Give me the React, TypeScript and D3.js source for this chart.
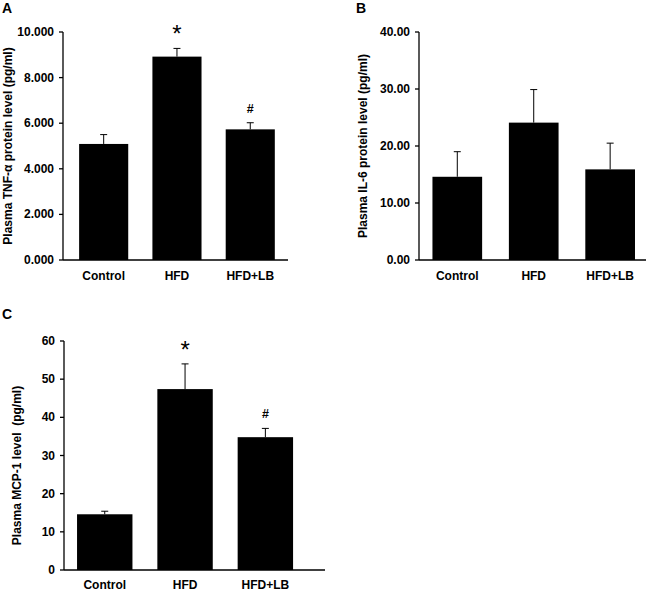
import React from 'react';
import * as d3 from 'd3';

const groups = ['Control', 'HFD', 'HFD+LB'];

const tnfMean = [5.09, 8.92, 5.73];
const tnfErr = [0.41, 0.36, 0.29];
const tnfMarks = ['', '*', '#'];
const tnfTicks = [0, 2, 4, 6, 8, 10];

const il6Mean = [14.6, 24.1, 15.9];
const il6Err = [4.4, 5.8, 4.6];
const il6Marks = ['', '', ''];
const il6Ticks = [0, 10, 20, 30, 40];

const mcpMean = [14.6, 47.4, 34.8];
const mcpErr = [0.8, 6.6, 2.3];
const mcpMarks = ['', '*', '#'];
const mcpTicks = [0, 10, 20, 30, 40, 50, 60];

const FONT = '"Liberation Sans", Arial, sans-serif';

type PanelProps = {
  letter: string;
  letterX: number;
  letterY: number;
  title: string;
  titleX: number;
  titleDy: number;
  x0: number;
  x1: number;
  top: number;
  bottom: number;
  max: number;
  ticks: number[];
  fmt: (d: number) => string;
  means: number[];
  errs: number[];
  marks: string[];
  padInner: number;
  padOuter: number;
  align: number;
  labelDy: number;
};

function Panel(p: PanelProps) {
  const x = d3
    .scaleBand()
    .domain(groups)
    .range([p.x0, p.x1])
    .paddingInner(p.padInner)
    .paddingOuter(p.padOuter)
    .align(p.align);
  const y = d3.scaleLinear().domain([0, p.max]).range([p.bottom, p.top]);
  const bw = x.bandwidth();

  return (
    <g fontFamily={FONT} fontWeight="bold">
      <text x={p.letterX} y={p.letterY} fontSize={14}>
        {p.letter}
      </text>
      <text
        transform={`translate(${p.titleX},${(p.top + p.bottom) / 2 + p.titleDy}) rotate(-90)`}
        textAnchor="middle"
        dominantBaseline="central"
        fontSize={12}
        style={{ whiteSpace: 'pre' }}
      >
        {p.title}
      </text>

      {/* bars */}
      {groups.map((g, i) => (
        <rect
          key={g}
          x={x(g)}
          y={y(p.means[i])}
          width={bw}
          height={y(0) - y(p.means[i])}
          fill="#000"
        />
      ))}

      {/* upper error bars */}
      {groups.map((g, i) => {
        const cx = (x(g) as number) + bw / 2;
        const yt = y(p.means[i] + p.errs[i]);
        return (
          <g key={g} stroke="#000" strokeWidth={1}>
            <line x1={cx} x2={cx} y1={y(p.means[i])} y2={yt} />
            <line x1={cx - 3.5} x2={cx + 3.5} y1={yt} y2={yt} />
          </g>
        );
      })}

      {/* significance marks */}
      {groups.map((g, i) =>
        p.marks[i] === '*' ? (
          <text
            key={g}
            x={(x(g) as number) + bw / 2}
            y={y(p.means[i] + p.errs[i]) - 6}
            textAnchor="middle"
            fontSize={24}
            fontWeight="normal"
          >
            *
          </text>
        ) : p.marks[i] === '#' ? (
          <text
            key={g}
            x={(x(g) as number) + bw / 2}
            y={y(p.means[i] + p.errs[i]) - 10}
            textAnchor="middle"
            fontSize={12.5}
          >
            #
          </text>
        ) : null
      )}

      {/* y axis */}
      <line x1={p.x0} x2={p.x0} y1={p.top} y2={p.bottom} stroke="#000" strokeWidth={1.3} />
      {p.ticks.map((t) => (
        <g key={t}>
          <line x1={p.x0 - 4} x2={p.x0} y1={y(t)} y2={y(t)} stroke="#000" strokeWidth={1.3} />
          <text x={p.x0 - 9} y={y(t)} textAnchor="end" dominantBaseline="central" fontSize={12}>
            {p.fmt(t)}
          </text>
        </g>
      ))}

      {/* x axis */}
      <line x1={p.x0} x2={p.x1} y1={p.bottom} y2={p.bottom} stroke="#000" strokeWidth={1.3} />
      {groups.map((g) => (
        <text
          key={g}
          x={(x(g) as number) + bw / 2}
          y={p.bottom + p.labelDy}
          textAnchor="middle"
          fontSize={12}
        >
          {g}
        </text>
      ))}
    </g>
  );
}

export default function App() {
  return (
    <svg width={649} height={591} style={{ position: 'absolute', left: 0, top: 0, background: '#fff' }}>
      <rect width={649} height={591} fill="#fff" />
      <Panel
        letter="A"
        letterX={2}
        letterY={13}
        title="Plasma TNF-α protein level (pg/ml)"
        titleX={8}
        titleDy={0}
        x0={63}
        x1={288}
        top={32}
        bottom={260}
        max={10}
        ticks={tnfTicks}
        fmt={(d) => d3.format('.3f')(d)}
        means={tnfMean}
        errs={tnfErr}
        marks={tnfMarks}
        padInner={0.33}
        padOuter={0.2}
        align={0.55}
        labelDy={20}
      />
      <Panel
        letter="B"
        letterX={356}
        letterY={13}
        title="Plasma IL-6 protein level (pg/ml)"
        titleX={363}
        titleDy={0}
        x0={419}
        x1={646}
        top={32}
        bottom={260}
        max={40}
        ticks={il6Ticks}
        fmt={(d) => d3.format('.2f')(d)}
        means={il6Mean}
        errs={il6Err}
        marks={il6Marks}
        padInner={0.35}
        padOuter={0.16}
        align={0.55}
        labelDy={20}
      />
      <Panel
        letter="C"
        letterX={2}
        letterY={319}
        title="Plasma MCP-1 level  (pg/ml)"
        titleX={17}
        titleDy={10}
        x0={64}
        x1={325}
        top={341}
        bottom={570}
        max={60}
        ticks={mcpTicks}
        fmt={(d) => String(d)}
        means={mcpMean}
        errs={mcpErr}
        marks={mcpMarks}
        padInner={0.31}
        padOuter={0.28}
        align={0.29}
        labelDy={18.5}
      />
    </svg>
  );
}
